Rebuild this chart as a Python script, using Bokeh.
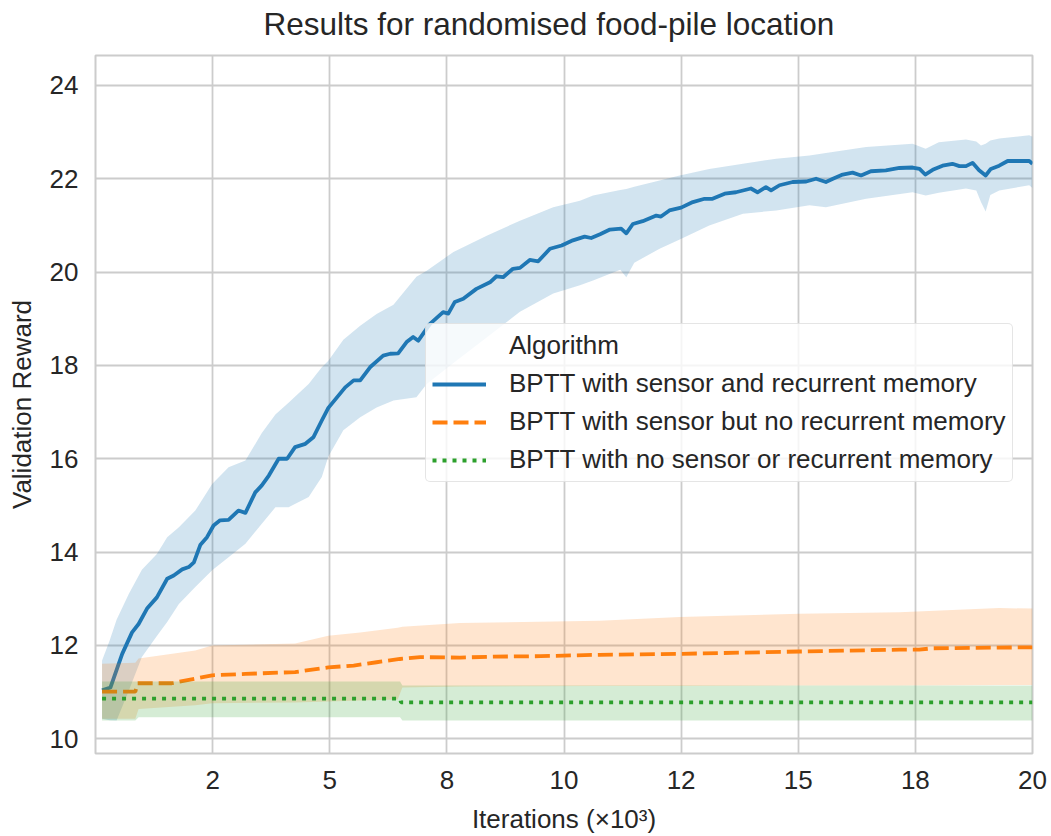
from bokeh.plotting import figure
from bokeh.models import Range1d, FixedTicker, Legend, LegendItem
from bokeh.embed import file_html
from bokeh.resources import INLINE

# ---------------- data ----------------
title_text = "Results for randomised food-pile location"
x_label = "Iterations (×10³)"
y_label = "Validation Reward"
series_names = [
    "BPTT with sensor and recurrent memory",
    "BPTT with sensor but no recurrent memory",
    "BPTT with no sensor or recurrent memory",
]
legend_title = "Algorithm"

x_ticks = [2.5, 5, 7.5, 10, 12.5, 15, 17.5, 20]
x_tick_labels = ["2", "5", "8", "10", "12", "15", "18", "20"]
y_ticks = [10, 12, 14, 16, 18, 20, 22, 24]

# blue: sensor + recurrent memory (mean)
blue_x = [0.14, 0.32, 0.57, 0.78, 0.92, 1.10, 1.31, 1.53, 1.67, 1.85, 1.99, 2.10, 2.24, 2.38,
          2.52, 2.66, 2.84, 3.05, 3.20, 3.41, 3.55, 3.70, 3.91, 4.09, 4.26, 4.48, 4.65, 4.83,
          4.97, 5.33, 5.51, 5.65, 5.86, 6.14, 6.29, 6.46, 6.64, 6.78, 6.89, 7.14, 7.42, 7.53,
          7.67, 7.85, 8.13, 8.42, 8.56, 8.70, 8.91, 9.06, 9.27, 9.45, 9.70, 9.95, 10.19, 10.44,
          10.58, 10.77, 10.98, 11.22, 11.33, 11.47, 11.68, 11.97, 12.07, 12.25, 12.50, 12.75,
          13.00, 13.17, 13.43, 13.67, 13.99, 14.13, 14.31, 14.42, 14.60, 14.88, 15.17, 15.38,
          15.59, 15.74, 15.95, 16.16, 16.34, 16.55, 16.87, 17.16, 17.44, 17.59, 17.71, 17.87,
          18.08, 18.29, 18.44, 18.58, 18.72, 18.86, 19.00, 19.11, 19.29, 19.47, 19.71, 19.93, 20.00]
blue_mean = [11.04, 11.10, 11.82, 12.28, 12.46, 12.79, 13.03, 13.43, 13.50, 13.63, 13.68, 13.78,
             14.16, 14.32, 14.57, 14.68, 14.69, 14.89, 14.84, 15.28, 15.43, 15.64, 16.00, 16.00,
             16.25, 16.32, 16.46, 16.82, 17.09, 17.53, 17.68, 17.68, 17.96, 18.21, 18.25, 18.26,
             18.50, 18.61, 18.53, 18.89, 19.14, 19.11, 19.36, 19.43, 19.64, 19.78, 19.91, 19.89,
             20.07, 20.09, 20.26, 20.23, 20.50, 20.57, 20.68, 20.76, 20.73, 20.81, 20.91, 20.93,
             20.83, 21.03, 21.09, 21.21, 21.19, 21.32, 21.38, 21.50, 21.57, 21.57, 21.68, 21.71,
             21.79, 21.71, 21.82, 21.75, 21.86, 21.93, 21.94, 22.00, 21.93, 22.00, 22.09, 22.13,
             22.07, 22.16, 22.18, 22.23, 22.24, 22.21, 22.09, 22.19, 22.28, 22.32, 22.27, 22.27,
             22.34, 22.18, 22.07, 22.21, 22.28, 22.38, 22.38, 22.38, 22.32]

# blue confidence band
blue_band_x = [0.14, 0.30, 0.45, 0.71, 0.99, 1.31, 1.53, 1.78, 2.13, 2.49, 2.84, 3.20, 3.55,
               3.84, 4.12, 4.55, 4.83, 4.97, 5.29, 5.65, 6.00, 6.36, 6.85, 7.07, 7.64, 8.35,
               9.06, 9.77, 10.34, 10.62, 11.20, 11.33, 11.50, 12.04, 12.47, 13.10, 13.82, 14.53,
               15.24, 15.59, 16.45, 17.44, 17.72, 18.00, 18.58, 18.80, 18.90, 19.00, 19.10,
               19.29, 19.93, 20.00]
blue_lo = [10.43, 10.40, 10.39, 11.03, 11.75, 12.20, 12.50, 12.89, 13.25, 13.61, 13.89, 14.18,
           14.61, 14.96, 14.96, 15.18, 15.61, 16.05, 16.61, 16.89, 17.10, 17.25, 17.32, 17.60,
           18.05, 18.60, 19.15, 19.54, 19.72, 19.82, 20.05, 19.89, 20.20, 20.50, 20.70, 21.00,
           21.25, 21.32, 21.43, 21.39, 21.57, 21.71, 21.64, 21.70, 21.79, 21.75, 21.50, 21.30,
           21.65, 21.75, 21.86, 21.80]
blue_hi = [11.68, 12.10, 12.55, 13.10, 13.62, 13.96, 14.32, 14.53, 14.89, 15.46, 15.82, 15.96,
           16.55, 16.95, 17.20, 17.60, 17.96, 18.10, 18.55, 18.85, 19.10, 19.30, 19.90, 20.03,
           20.43, 20.78, 21.10, 21.39, 21.53, 21.64, 21.76, 21.78, 21.83, 21.96, 22.07, 22.21,
           22.32, 22.43, 22.50, 22.55, 22.68, 22.75, 22.64, 22.78, 22.84, 22.80, 22.71, 22.75,
           22.82, 22.86, 22.93, 22.90]

# orange: sensor, no recurrent memory
orange_x = [0.14, 0.85, 0.90, 1.63, 2.13, 2.49, 3.20, 4.26, 4.97, 5.51, 6.00, 6.50, 6.93, 7.78,
            8.50, 9.50, 10.76, 12.47, 15.03, 17.16, 17.58, 17.87, 20.00]
orange_mean = [11.01, 11.01, 11.19, 11.19, 11.29, 11.36, 11.39, 11.43, 11.53, 11.57, 11.64, 11.71,
               11.75, 11.74, 11.76, 11.77, 11.80, 11.82, 11.87, 11.91, 11.91, 11.94, 11.96]
orange_band_x = [0.14, 0.85, 0.92, 2.13, 2.49, 4.26, 4.97, 5.65, 6.45, 6.55, 7.78, 10.76, 12.47,
                 15.03, 17.16, 19.29, 20.00]
orange_lo = [10.43, 10.43, 10.64, 10.72, 10.76, 10.78, 10.80, 10.82, 10.84, 11.10, 11.12, 11.13,
             11.13, 11.14, 11.14, 11.15, 11.15]
orange_hi = [11.61, 11.63, 11.72, 11.89, 12.00, 12.04, 12.21, 12.28, 12.38, 12.40, 12.48, 12.53,
             12.61, 12.68, 12.71, 12.80, 12.79]

# green: no sensor, no recurrent memory
green_x = [0.14, 6.50, 6.52, 20.00]
green_mean = [10.86, 10.86, 10.78, 10.78]
green_band_x = [0.14, 0.85, 0.92, 6.50, 6.55, 20.00]
green_lo = [10.39, 10.39, 10.46, 10.46, 10.39, 10.39]
green_hi = [11.23, 11.23, 11.23, 11.23, 11.14, 11.14]

# ---------------- styling ----------------
FONT = "Liberation Sans"
TXT = "#262626"
GRID = "#cccccc"
C_BLUE, C_ORANGE, C_GREEN = "#1f77b4", "#ff7f0e", "#2ca02c"
LW = 3.8

p = figure(width=1051, height=846, output_backend="svg", toolbar_location=None,
           x_range=Range1d(0, 20), y_range=Range1d(9.685, 24.64),
           min_border_left=95, min_border_right=19, min_border_top=60, min_border_bottom=83)
# shift the whole canvas up a little so the title sits where it should
p.styles = {"margin-top": "-10px"}
p.background_fill_color = "white"
p.border_fill_color = "white"
p.outline_line_color = GRID
p.outline_line_width = 2

p.title.text = title_text
p.title.text_font = FONT
p.title.text_font_size = "31.5px"
p.title.text_font_style = "normal"
p.title.text_color = TXT
p.title.align = "left"
p.title.offset = 168
p.title.standoff = 27

p.xaxis.ticker = FixedTicker(ticks=x_ticks)
p.xaxis.major_label_overrides = {t: l for t, l in zip(x_ticks, x_tick_labels)}
p.yaxis.ticker = FixedTicker(ticks=y_ticks)
p.xaxis.axis_label = x_label
p.yaxis.axis_label = y_label
for ax in (p.xaxis[0], p.yaxis[0]):
    ax.axis_line_color = None
    ax.major_tick_line_color = None
    ax.minor_tick_line_color = None
    ax.major_tick_out = 0
    ax.major_tick_in = 0
    ax.major_label_text_font = FONT
    ax.major_label_text_font_size = "26px"
    ax.major_label_text_color = TXT
    ax.axis_label_text_font = FONT
    ax.axis_label_text_font_size = "26px"
    ax.axis_label_text_font_style = "normal"
    ax.axis_label_text_color = TXT
p.xaxis.major_label_standoff = 17
p.xaxis.axis_label_standoff = 12
p.yaxis.major_label_standoff = 17
p.yaxis.axis_label_standoff = 10

p.grid.grid_line_color = GRID
p.grid.grid_line_width = 1.8

# bands and lines (drawn series by series)
p.varea(x=blue_band_x, y1=blue_lo, y2=blue_hi, fill_color=C_BLUE, fill_alpha=0.2)
r_blue = p.line(blue_x, blue_mean, line_color=C_BLUE, line_width=LW, line_join="round")
p.varea(x=orange_band_x, y1=orange_lo, y2=orange_hi, fill_color=C_ORANGE, fill_alpha=0.2)
r_orange = p.line(orange_x, orange_mean, line_color=C_ORANGE, line_width=LW, line_dash="15 6")
p.varea(x=green_band_x, y1=green_lo, y2=green_hi, fill_color=C_GREEN, fill_alpha=0.2)
r_green = p.line(green_x, green_mean, line_color=C_GREEN, line_width=LW, line_dash="4 6")
r_dummy = p.line([10], [15], line_alpha=0)

legend = Legend(items=[
    LegendItem(label=legend_title, renderers=[r_dummy]),
    LegendItem(label=series_names[0], renderers=[r_blue]),
    LegendItem(label=series_names[1], renderers=[r_orange]),
    LegendItem(label=series_names[2], renderers=[r_green]),
], location=(330, 271))
legend.margin = 0
legend.padding = 6
legend.spacing = 7
legend.glyph_width = 54
legend.glyph_height = 26
legend.label_height = 26
legend.label_standoff = 23
legend.label_text_font = FONT
legend.label_text_font_size = "26px"
legend.label_text_color = TXT
legend.border_line_color = GRID
legend.border_line_width = 1.5
legend.border_radius = 5
legend.background_fill_color = "white"
legend.background_fill_alpha = 0.8
p.add_layout(legend)

open("out.html", "w").write(file_html(p, INLINE))
